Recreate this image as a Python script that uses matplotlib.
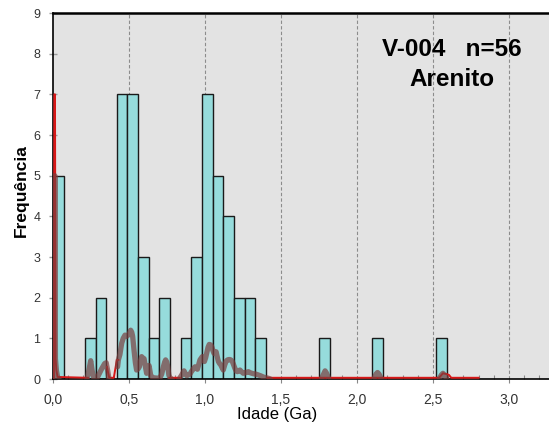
import numpy as np
import matplotlib
matplotlib.use("Agg")
import matplotlib.pyplot as plt
from matplotlib.ticker import MultipleLocator, FuncFormatter

plt.rcParams['font.family'] = ['Liberation Sans', 'DejaVu Sans']

nan = np.nan

# Histogram of U-Pb ages (Ga), bin width 0.07 Ga
bin_width = 0.07
bin_left = [0.00, 0.21, 0.28, 0.42, 0.49, 0.56, 0.63, 0.70, 0.84, 0.91,
            0.98, 1.05, 1.12, 1.19, 1.26, 1.33, 1.75, 2.10, 2.52]
counts = [5, 1, 2, 7, 7, 3, 1, 2, 1, 3,
          7, 5, 4, 2, 2, 1, 1, 1, 1]

# Thin red probability curve (segments outside the brown curve)
red_x = [0.0, 0.006, 0.009, 0.013, 0.017, 0.022, 0.03, 0.23, nan,
         0.355, 0.36, 0.37, 0.40, 0.41, 0.42, 0.43, nan,
         0.765, 0.835, nan,
         1.41, 2.54, 2.565, 2.59, 2.605, 2.62, 2.80]
red_y = [0.03, 0.03, 7.0, 7.0, 0.5, 0.22, 0.05, 0.03, nan,
         0.3, 0.2, 0.03, 0.03, 0.25, 0.47, 0.47, nan,
         0.03, 0.03, nan,
         0.03, 0.03, 0.14, 0.12, 0.1, 0.03, 0.03]

# Thick brown density curve (NaN separates the segments)
brown_x = [0.008, 0.012, 0.016, 0.022, 0.03, 0.04, nan,
           0.225, 0.24, 0.248, 0.258, 0.27, 0.287, 0.30, 0.32, 0.34, 0.35, 0.36, 0.368, nan,
           0.425, 0.43, 0.44, 0.452, 0.462, 0.474, 0.485, 0.50, 0.511, 0.518, 0.524,
           0.533, 0.542, 0.55, 0.56, 0.568, 0.576, 0.583, 0.59, 0.599, 0.608, 0.616,
           0.625, 0.632, 0.638, 0.643, 0.66, 0.69, 0.704, 0.715, 0.726, 0.735, 0.741,
           0.748, 0.755, 0.762, 0.77, 0.78, nan,
           0.83, 0.847, 0.862, 0.872, 0.88, 0.89, 0.901, 0.91, 0.918, 0.934, 0.942,
           0.95, 0.958, 0.967, 0.982, 0.99, 0.996, 1.004, 1.011, 1.02, 1.028, 1.036,
           1.044, 1.052, 1.059, 1.066, 1.073, 1.08, 1.088, 1.096, 1.103, 1.112, 1.12,
           1.13, 1.138, 1.148, 1.16, 1.17, 1.18, 1.19, 1.197, 1.205, 1.213, 1.222,
           1.23, 1.24, 1.252, 1.27, 1.285, 1.30, 1.318, 1.335, 1.35, 1.365, 1.383,
           1.40, 1.415, 1.43, nan,
           1.765, 1.78, 1.79, 1.80, 1.815, nan,
           2.11, 2.125, 2.135, 2.145, 2.16, nan,
           2.54, 2.555, 2.565, 2.575, 2.59]
brown_y = [0.0, 5.0, 0.5, 0.22, 0.05, 0.0, nan,
           0.0, 0.3, 0.45, 0.2, 0.0, 0.0, 0.1, 0.25, 0.38, 0.40, 0.2, 0.0, nan,
           0.3, 0.47, 0.6, 0.88, 1.0, 1.08, 1.05, 1.1, 1.2, 1.15, 1.05,
           0.71, 0.4, 0.22, 0.25, 0.3, 0.45, 0.55, 0.52, 0.5, 0.3, 0.14,
           0.2, 0.33, 0.2, 0.08, 0.03, 0.02, 0.03, 0.12, 0.3, 0.42, 0.47,
           0.42, 0.3, 0.1, 0.02, 0.0, nan,
           0.0, 0.1, 0.2, 0.12, 0.08, 0.1, 0.12, 0.18, 0.22, 0.3, 0.28,
           0.24, 0.35, 0.47, 0.55, 0.5, 0.43, 0.52, 0.63, 0.78, 0.85, 0.84,
           0.8, 0.7, 0.63, 0.66, 0.67, 0.55, 0.43, 0.38, 0.35, 0.28, 0.22,
           0.35, 0.43, 0.47, 0.48, 0.47, 0.43, 0.33, 0.26, 0.2, 0.18, 0.2,
           0.22, 0.18, 0.14, 0.16, 0.18, 0.15, 0.13, 0.12, 0.1, 0.08, 0.05,
           0.03, 0.02, 0.0, nan,
           0.0, 0.12, 0.2, 0.14, 0.0, nan,
           0.0, 0.12, 0.16, 0.12, 0.0, nan,
           0.0, 0.1, 0.14, 0.1, 0.0]

x_ticks = [0.0, 0.5, 1.0, 1.5, 2.0, 2.5, 3.0]
y_ticks = list(range(0, 10))

fig = plt.figure(figsize=(5.49, 4.26), dpi=100)
ax = fig.add_axes([53 / 549, 47 / 426, 1 - 53 / 549, 366 / 426])
ax.set_facecolor('#E3E3E3')

# vertical dashed grid at every 0.5 Ga
for xv in x_ticks[1:]:
    ax.axvline(xv, color='#8C8C8C', lw=0.8, ls=(0, (3, 2)), zorder=1)

ax.bar(bin_left, counts, width=bin_width, align='edge', color='#96DCDC',
       edgecolor='#1A1A1A', linewidth=1.0, zorder=2)

ax.plot(red_x, red_y, color='#D81818', lw=1.4, zorder=3, solid_joinstyle='round')
ax.plot(brown_x, brown_y, color='#7A3E3E', alpha=0.7, lw=3.8, zorder=4,
        solid_capstyle='round', solid_joinstyle='round')

ax.set_xlim(0, 3.263)
ax.set_ylim(0, 9)

ax.set_xticks(x_ticks)
ax.xaxis.set_minor_locator(MultipleLocator(0.1))
ax.xaxis.set_major_formatter(FuncFormatter(lambda v, p: f"{v:.1f}".replace('.', ',')))
ax.set_yticks(y_ticks)

ax.tick_params(axis='x', which='major', direction='out', length=3, width=0.8,
               color='#888888', labelsize=10, labelcolor='#333333', pad=7)
ax.tick_params(axis='x', which='minor', direction='in', length=3, width=0.8,
               color='#888888')
ax.tick_params(axis='y', which='major', direction='inout', length=6, width=1.0,
               color='#999999', labelsize=9, labelcolor='#333333', pad=6)

for side in ('left', 'bottom'):
    ax.spines[side].set_color('#000000')
    ax.spines[side].set_linewidth(1.2)
ax.spines['top'].set_color('#000000')
ax.spines['top'].set_linewidth(1.8)
ax.spines['right'].set_visible(False)

fig.text(277 / 549, 1 - 415 / 426, 'Idade (Ga)', ha='center', va='center',
         fontsize=12, color='#000000')
fig.text(21.5 / 549, 1 - 191 / 426, 'Frequência', ha='center', va='center',
         rotation=90, fontsize=12.5, fontweight='bold', color='#000000')

fig.text(452 / 549, 1 - 56.5 / 426, 'V-004   n=56', ha='center', va='baseline',
         fontsize=17.5, fontweight='bold', color='#000000')
fig.text(452 / 549, 1 - 85.5 / 426, 'Arenito', ha='center', va='baseline',
         fontsize=17.5, fontweight='bold', color='#000000')

fig.savefig('out.png', dpi=100)
